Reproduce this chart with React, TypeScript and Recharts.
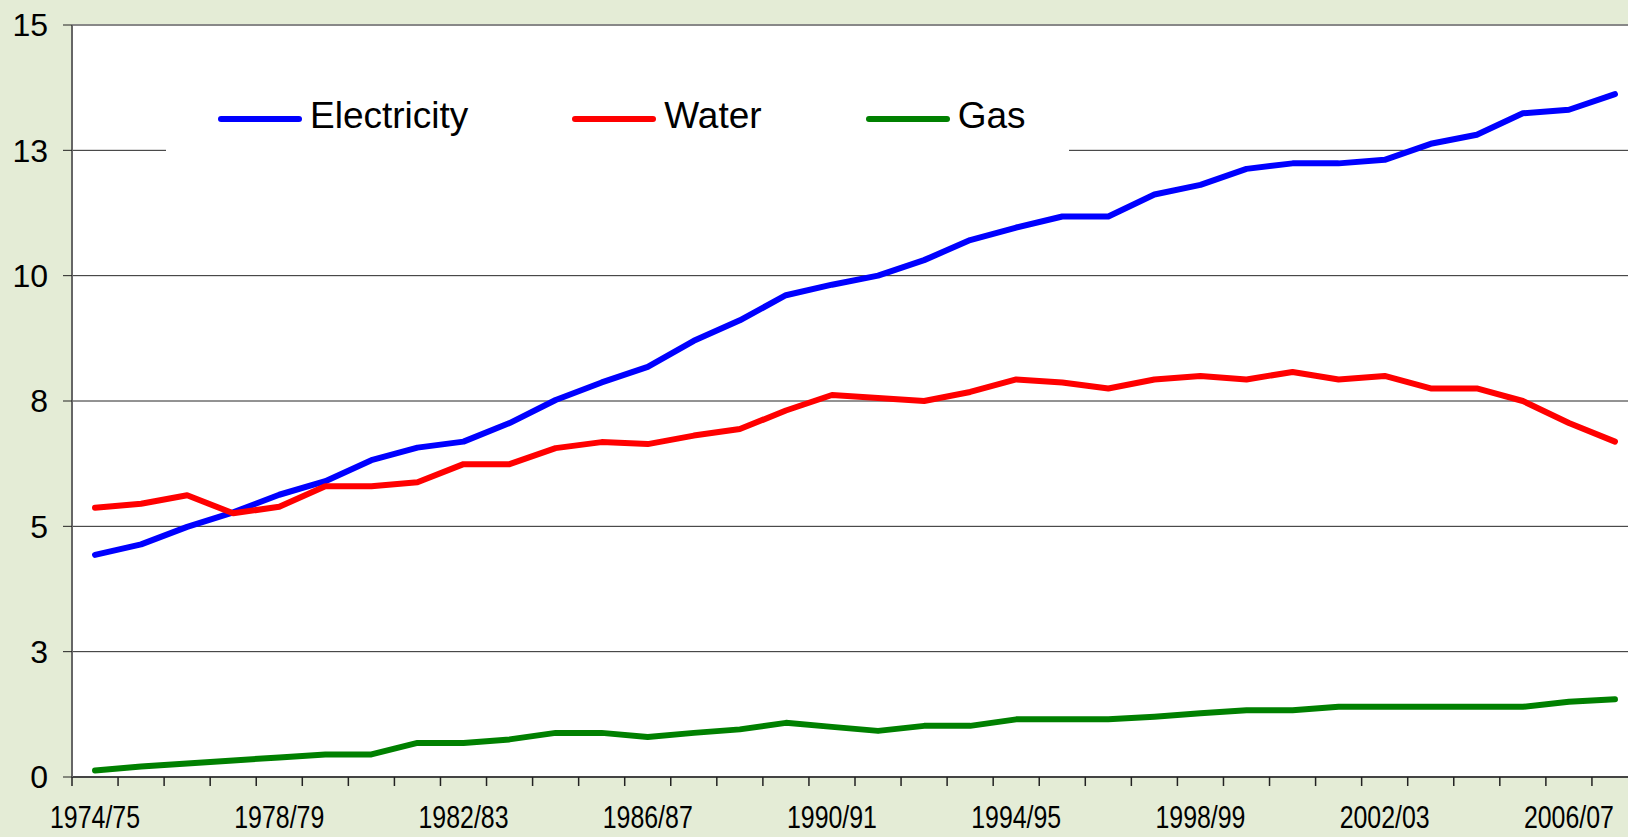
import React from "react";
import { LineChart, Line, XAxis, YAxis, CartesianGrid, Legend, ReferenceLine } from "recharts";

const years = [
    "1974/75", "1975/76", "1976/77", "1977/78", "1978/79", "1979/80", "1980/81", "1981/82",
    "1982/83", "1983/84", "1984/85", "1985/86", "1986/87", "1987/88", "1988/89", "1989/90",
    "1990/91", "1991/92", "1992/93", "1993/94", "1994/95", "1995/96", "1996/97", "1997/98",
    "1998/99", "1999/00", "2000/01", "2001/02", "2002/03", "2003/04", "2004/05", "2005/06",
    "2006/07", "2007/08",
];

const electricity = [
    4.43, 4.64, 4.99, 5.28, 5.63, 5.9, 6.32, 6.57, 6.69, 7.06, 7.52, 7.87, 8.18, 8.7, 9.11, 9.61,
    9.82, 10.0, 10.31, 10.71, 10.96, 11.18, 11.18, 11.62, 11.81, 12.13, 12.24, 12.24, 12.31, 12.63,
    12.81, 13.24, 13.31, 13.62,
];

const water = [
    5.37, 5.45, 5.62, 5.26, 5.39, 5.8, 5.8, 5.88, 6.24, 6.24, 6.56, 6.68, 6.64, 6.81, 6.94, 7.31,
    7.62, 7.56, 7.5, 7.68, 7.93, 7.87, 7.75, 7.93, 8.0, 7.93, 8.08, 7.93, 8.0, 7.75, 7.75, 7.5,
    7.06, 6.69,
];

const gas = [
    0.13, 0.21, 0.27, 0.33, 0.39, 0.45, 0.45, 0.68, 0.68, 0.75, 0.88, 0.88, 0.8, 0.88, 0.95, 1.08,
    1.0, 0.92, 1.02, 1.02, 1.15, 1.15, 1.15, 1.2, 1.27, 1.33, 1.33, 1.4, 1.4, 1.4, 1.4, 1.4,
    1.5, 1.55,
];

const seriesNames = ["Electricity", "Water", "Gas"];
const yTicks = [0, 2.5, 5, 7.5, 10, 12.5, 15];

const data = years.map((year, i) => ({
    year,
    electricity: electricity[i],
    water: water[i],
    gas: gas[i],
}));

const FONT = '"Liberation Sans", Arial, sans-serif';
const PLOT_WIDTH = 1566;
const STEP = PLOT_WIDTH / years.length;

// excel style: tick marks sit between categories, a label on every 4th year
function XTick(props: any) {
    const { x, y, payload, index } = props;
    const left = x - STEP / 2;
    return (
        <g>
            <line x1={left} x2={left} y1={y} y2={y + 9} stroke="#222" strokeWidth={1.5} />
            {index % 4 === 0 && (
                <text
                    x={x}
                    y={y + 51}
                    textAnchor="middle"
                    fontSize={32}
                    fontFamily={FONT}
                    fill="#000"
                    textLength={90}
                    lengthAdjust="spacingAndGlyphs"
                >
                    {payload.value}
                </text>
            )}
        </g>
    );
}

function LegendBox({ payload }: any) {
    const items = [...(payload || [])].sort(
        (a: any, b: any) => seriesNames.indexOf(a.value) - seriesNames.indexOf(b.value)
    );
    return (
        <div
            style={{
                display: "flex",
                alignItems: "center",
                height: 88,
                paddingLeft: 52,
                background: "#fff",
                fontFamily: FONT,
                fontSize: 37,
                lineHeight: 1,
                color: "#000",
            }}
        >
            {items.map((p: any) => (
                <div key={p.value} style={{ display: "flex", alignItems: "center", marginRight: 104 }}>
                    <span
                        style={{
                            display: "inline-block",
                            width: 84,
                            height: 6,
                            borderRadius: 3,
                            background: p.color,
                            marginRight: 8,
                        }}
                    />
                    <span style={{ position: "relative", top: -4 }}>{p.value}</span>
                </div>
            ))}
        </div>
    );
}

export default function App() {
    return (
        <div
            style={{
                position: "fixed",
                left: 0,
                top: 0,
                width: 1628,
                height: 837,
                overflow: "hidden",
                background: "#E4ECD6",
            }}
        >
            <LineChart width={1640} height={837} data={data} margin={{ top: 25, right: 2, bottom: 0, left: 0 }}>
                <CartesianGrid vertical={false} stroke="#262626" strokeWidth={1} fill="#ffffff" fillOpacity={1} />
                <XAxis
                    dataKey="year"
                    interval={0}
                    height={60}
                    padding={{ left: STEP / 2, right: STEP / 2 }}
                    tickSize={0}
                    tickMargin={0}
                    tickLine={false}
                    tick={<XTick />}
                    axisLine={{ stroke: "#444", strokeWidth: 2 }}
                />
                <YAxis
                    width={72}
                    domain={[0, 15]}
                    ticks={yTicks}
                    interval={0}
                    tickFormatter={(v: number) => String(Math.round(v))}
                    tickSize={9}
                    tickMargin={15}
                    tickLine={{ stroke: "#222" }}
                    axisLine={{ stroke: "#666", strokeWidth: 2 }}
                    tick={{ fontSize: 32, fontFamily: FONT, fill: "#000" }}
                />
                <ReferenceLine y={15} stroke="#888" strokeWidth={2} />
                <Legend
                    layout="vertical"
                    align="center"
                    verticalAlign="middle"
                    content={<LegendBox />}
                    wrapperStyle={{ left: 166, top: 75, width: 903, height: 88 }}
                />
                <Line type="linear" dataKey="electricity" name="Electricity" stroke="#0000FF" strokeWidth={6} dot={false} strokeLinejoin="round" strokeLinecap="round" isAnimationActive={false} />
                <Line type="linear" dataKey="water" name="Water" stroke="#FF0000" strokeWidth={6} dot={false} strokeLinejoin="round" strokeLinecap="round" isAnimationActive={false} />
                <Line type="linear" dataKey="gas" name="Gas" stroke="#008000" strokeWidth={6} dot={false} strokeLinejoin="round" strokeLinecap="round" isAnimationActive={false} />
            </LineChart>
        </div>
    );
}
